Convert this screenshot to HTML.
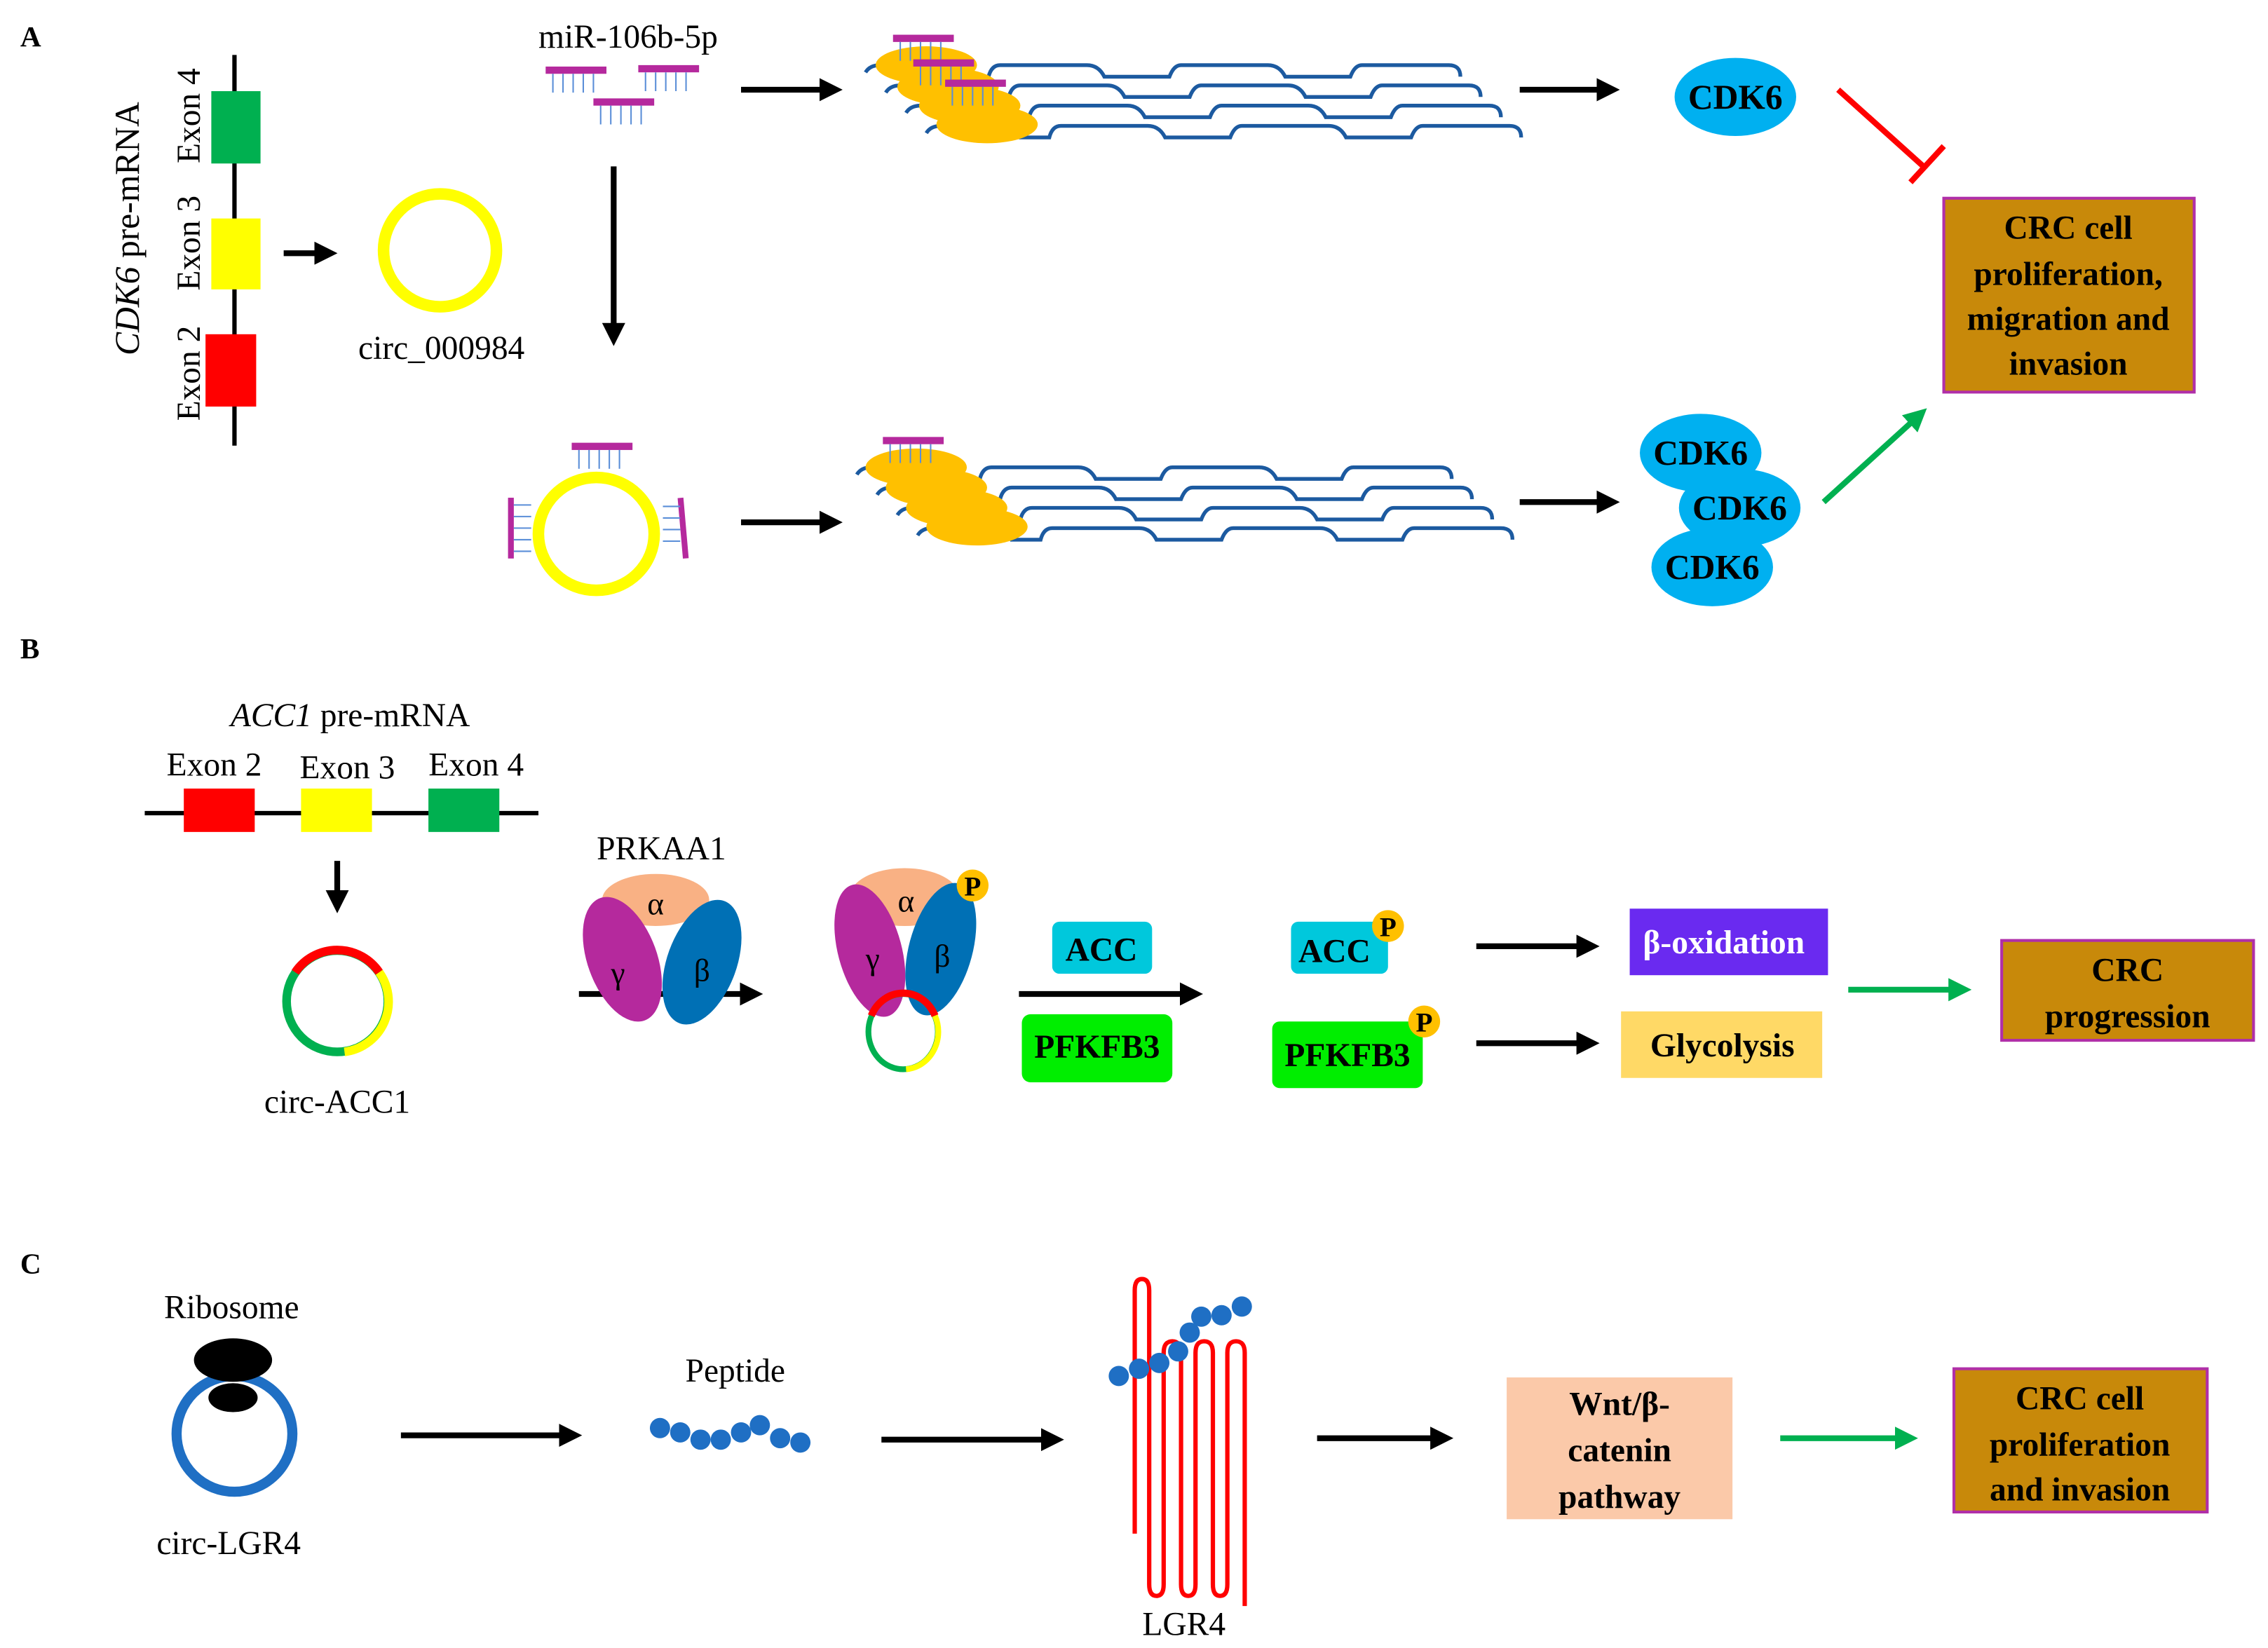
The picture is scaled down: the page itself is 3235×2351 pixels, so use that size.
<!DOCTYPE html>
<html><head><meta charset="utf-8"><style>
html,body{margin:0;padding:0;background:#fff}
svg{display:block}
svg text{font-family:"Liberation Serif","Times New Roman","DejaVu Serif",serif;fill:#000}
.b{font-weight:bold}
</style></head><body>
<svg width="3235" height="2351" viewBox="0 0 1567 1139" preserveAspectRatio="none" xmlns="http://www.w3.org/2000/svg" font-family="Liberation Serif, Times New Roman, DejaVu Serif, serif">
<defs>
<marker id="ah" markerWidth="4" markerHeight="4" refX="2.2" refY="2" orient="auto" markerUnits="strokeWidth"><path d="M0,0 L4,2 L0,4 Z" fill="#000"/></marker>
<marker id="ag" markerWidth="4" markerHeight="4" refX="2.2" refY="2" orient="auto" markerUnits="strokeWidth"><path d="M0,0 L4,2 L0,4 Z" fill="#00b050"/></marker>
<path id="wave" d="M0,10 q3,-5 10,-5 h45 q8,0 10,8 h20 q2,-8 8,-8 h60 q8,0 12,8 h45 q3,-8 8,-8 h60 q8,0 12,8 h45 q3,-8 8,-8 h60 q8,0 8,8" fill="none" stroke="#1c5aa0" stroke-width="2.6"/>
<g id="mir"><rect x="0" y="0" width="42" height="5" fill="#b5299d"/><path d="M5,5v13M12,5v13M19,5v13M26,5v13M33,5v13" stroke="#5a8ed8" stroke-width="1"/></g>
<g id="cdk"><ellipse rx="42" ry="27" fill="#00b0f0"/><text y="8" text-anchor="middle" class="b" font-size="24">CDK6</text></g>
<g id="pp"><circle r="11" fill="#ffc000"/><text y="7" text-anchor="middle" class="b" font-size="19">P</text></g>
</defs>

<!-- Panel A -->
<text x="14" y="32" class="b" font-size="20">A</text>
<line x1="162" y1="38" x2="162" y2="308" stroke="#000" stroke-width="3"/>
<rect x="146" y="63" width="34" height="50" fill="#00b050"/>
<rect x="146" y="151" width="34" height="49" fill="#ffff00"/>
<rect x="142" y="231" width="35" height="50" fill="#ff0000"/>
<text transform="translate(138,80) rotate(-90)" text-anchor="middle" font-size="23">Exon 4</text>
<text transform="translate(138,168) rotate(-90)" text-anchor="middle" font-size="23">Exon 3</text>
<text transform="translate(138,258) rotate(-90)" text-anchor="middle" font-size="23">Exon 2</text>
<text transform="translate(96,158) rotate(-90)" text-anchor="middle" font-size="24"><tspan font-style="italic">CDK6</tspan> pre-mRNA</text>
<line x1="196" y1="175" x2="226" y2="175" stroke="#000" stroke-width="4" marker-end="url(#ah)"/>
<circle cx="304" cy="173" r="39" fill="none" stroke="#ffff00" stroke-width="8"/>
<text x="305" y="248" text-anchor="middle" font-size="23">circ_000984</text>
<text x="434" y="33" text-anchor="middle" font-size="23">miR-106b-5p</text>
<use href="#mir" x="377" y="46"/><use href="#mir" x="441" y="45"/><use href="#mir" x="410" y="68"/>
<line x1="512" y1="62" x2="575" y2="62" stroke="#000" stroke-width="4" marker-end="url(#ah)"/>
<line x1="424" y1="115" x2="424" y2="232" stroke="#000" stroke-width="4" marker-end="url(#ah)"/>
<use href="#wave" x="598" y="40"/><use href="#wave" x="612" y="54"/><use href="#wave" x="626" y="68"/><use href="#wave" x="640" y="82"/>
<ellipse cx="640" cy="45" rx="35" ry="13" fill="#ffc000"/><ellipse cx="655" cy="60" rx="35" ry="13" fill="#ffc000"/><ellipse cx="670" cy="73" rx="35" ry="13" fill="#ffc000"/><ellipse cx="682" cy="86" rx="35" ry="13" fill="#ffc000"/>
<use href="#mir" x="617" y="24"/><use href="#mir" x="631" y="41"/><use href="#mir" x="653" y="55"/>
<line x1="1050" y1="62" x2="1112" y2="62" stroke="#000" stroke-width="4" marker-end="url(#ah)"/>
<use href="#cdk" x="1199" y="67"/>
<line x1="1270" y1="62" x2="1330" y2="116" stroke="#ff0000" stroke-width="4"/>
<line x1="1343" y1="101" x2="1320" y2="126" stroke="#ff0000" stroke-width="4"/>
<rect x="1343" y="137" width="173" height="134" fill="#c8890a" stroke="#b02fa8" stroke-width="2"/>
<text x="1429" y="165" text-anchor="middle" class="b" font-size="23">CRC cell</text>
<text x="1429" y="197" text-anchor="middle" class="b" font-size="23">proliferation,</text>
<text x="1429" y="228" text-anchor="middle" class="b" font-size="23">migration and</text>
<text x="1429" y="259" text-anchor="middle" class="b" font-size="23">invasion</text>
<ellipse cx="412" cy="369" rx="40" ry="39" fill="none" stroke="#ffff00" stroke-width="8"/>
<use href="#mir" x="395" y="306"/>
<rect x="351" y="344" width="4" height="42" fill="#b5299d"/>
<path d="M355,349h12M355,357h12M355,365h12M355,373h12M355,381h12" stroke="#5a8ed8" stroke-width="1"/>
<rect x="470" y="344" width="4" height="42" fill="#b5299d" transform="rotate(-5 472 365)"/>
<path d="M458,350h12M458,358h12M458,366h12M458,374h12" stroke="#5a8ed8" stroke-width="1"/>
<line x1="512" y1="361" x2="575" y2="361" stroke="#000" stroke-width="4" marker-end="url(#ah)"/>
<use href="#wave" x="592" y="318"/><use href="#wave" x="606" y="332"/><use href="#wave" x="620" y="346"/><use href="#wave" x="634" y="360"/>
<ellipse cx="633" cy="323" rx="35" ry="13" fill="#ffc000"/><ellipse cx="647" cy="337" rx="35" ry="13" fill="#ffc000"/><ellipse cx="661" cy="351" rx="35" ry="13" fill="#ffc000"/><ellipse cx="675" cy="364" rx="35" ry="13" fill="#ffc000"/>
<use href="#mir" x="610" y="302"/>
<line x1="1050" y1="347" x2="1112" y2="347" stroke="#000" stroke-width="4" marker-end="url(#ah)"/>
<use href="#cdk" x="1175" y="313"/><use href="#cdk" x="1202" y="351"/><use href="#cdk" x="1183" y="392"/>
<line x1="1260" y1="347" x2="1326" y2="287" stroke="#00b050" stroke-width="4" marker-end="url(#ag)"/>

<!-- Panel B -->
<text x="14" y="455" class="b" font-size="20">B</text>
<text x="242" y="502" text-anchor="middle" font-size="23"><tspan font-style="italic">ACC1</tspan> pre-mRNA</text>
<text x="148" y="536" text-anchor="middle" font-size="23">Exon 2</text>
<text x="240" y="538" text-anchor="middle" font-size="23">Exon 3</text>
<text x="329" y="536" text-anchor="middle" font-size="23">Exon 4</text>
<line x1="100" y1="562" x2="372" y2="562" stroke="#000" stroke-width="3"/>
<rect x="127" y="545" width="49" height="30" fill="#ff0000"/>
<rect x="208" y="545" width="49" height="30" fill="#ffff00"/>
<rect x="296" y="545" width="49" height="30" fill="#00b050"/>
<line x1="233" y1="595" x2="233" y2="624" stroke="#000" stroke-width="4" marker-end="url(#ah)"/>
<circle cx="233" cy="692" r="35" fill="none" stroke="#00b050" stroke-width="6"/>
<path d="M204,672 A35,35 0 0 1 262,672" fill="none" stroke="#ff0000" stroke-width="6"/>
<path d="M262,672 A35,35 0 0 1 238,727" fill="none" stroke="#ffff00" stroke-width="6"/>
<text x="233" y="769" text-anchor="middle" font-size="23">circ-ACC1</text>
<text x="457" y="594" text-anchor="middle" font-size="23">PRKAA1</text>
<line x1="400" y1="687" x2="520" y2="687" stroke="#000" stroke-width="4" marker-end="url(#ah)"/>
<ellipse cx="453" cy="622" rx="37" ry="18" fill="#f9b184"/>
<ellipse cx="430" cy="663" rx="24" ry="45" fill="#b5299d" transform="rotate(-20 430 663)"/>
<ellipse cx="485" cy="665" rx="24" ry="45" fill="#0070b5" transform="rotate(20 485 665)"/>
<text x="453" y="632" text-anchor="middle" font-size="22">α</text>
<text x="427" y="680" text-anchor="middle" font-size="22">γ</text>
<text x="485" y="678" text-anchor="middle" font-size="22">β</text>
<ellipse cx="625" cy="620" rx="38" ry="20" fill="#f9b184"/>
<ellipse cx="601" cy="657" rx="22" ry="47" fill="#b5299d" transform="rotate(-15 601 657)"/>
<ellipse cx="650" cy="656" rx="22" ry="47" fill="#0070b5" transform="rotate(15 650 656)"/>
<text x="626" y="630" text-anchor="middle" font-size="22">α</text>
<text x="603" y="670" text-anchor="middle" font-size="22">γ</text>
<text x="651" y="668" text-anchor="middle" font-size="22">β</text>
<use href="#pp" x="672" y="612"/>
<ellipse cx="624" cy="713" rx="24" ry="26" fill="none" stroke="#00b050" stroke-width="4"/>
<path d="M602,702 A24,26 0 0 1 646,702" fill="none" stroke="#ff0000" stroke-width="5"/>
<path d="M646,702 A24,26 0 0 1 626,739" fill="none" stroke="#ffff00" stroke-width="4"/>
<rect x="727" y="637" width="69" height="36" rx="5" fill="#00c8dc"/>
<text x="761" y="664" text-anchor="middle" class="b" font-size="23">ACC</text>
<line x1="704" y1="687" x2="824" y2="687" stroke="#000" stroke-width="4" marker-end="url(#ah)"/>
<rect x="706" y="701" width="104" height="47" rx="6" fill="#00ee00"/>
<text x="758" y="731" text-anchor="middle" class="b" font-size="23">PFKFB3</text>
<rect x="892" y="637" width="67" height="36" rx="5" fill="#00c8dc"/>
<text x="922" y="665" text-anchor="middle" class="b" font-size="23">ACC</text>
<use href="#pp" x="959" y="640"/>
<rect x="879" y="706" width="104" height="46" rx="5" fill="#00ee00"/>
<text x="931" y="737" text-anchor="middle" class="b" font-size="23">PFKFB3</text>
<use href="#pp" x="984" y="706"/>
<line x1="1020" y1="654" x2="1098" y2="654" stroke="#000" stroke-width="4" marker-end="url(#ah)"/>
<line x1="1020" y1="721" x2="1098" y2="721" stroke="#000" stroke-width="4" marker-end="url(#ah)"/>
<rect x="1126" y="628" width="137" height="46" fill="#6a2af0"/>
<text x="1191" y="659" text-anchor="middle" class="b" font-size="23" style="fill:#fff">β-oxidation</text>
<rect x="1120" y="699" width="139" height="46" fill="#ffd966"/>
<text x="1190" y="730" text-anchor="middle" class="b" font-size="23">Glycolysis</text>
<line x1="1277" y1="684" x2="1355" y2="684" stroke="#00b050" stroke-width="4" marker-end="url(#ag)"/>
<rect x="1383" y="650" width="174" height="69" fill="#c8890a" stroke="#b02fa8" stroke-width="2"/>
<text x="1470" y="678" text-anchor="middle" class="b" font-size="23">CRC</text>
<text x="1470" y="710" text-anchor="middle" class="b" font-size="23">progression</text>

<!-- Panel C -->
<text x="14" y="880" class="b" font-size="20">C</text>
<text x="160" y="911" text-anchor="middle" font-size="23">Ribosome</text>
<circle cx="162" cy="991" r="40" fill="none" stroke="#1f6fc4" stroke-width="7"/>
<ellipse cx="161" cy="940" rx="27" ry="15" fill="#000"/>
<ellipse cx="161" cy="966" rx="17" ry="10" fill="#000"/>
<text x="158" y="1074" text-anchor="middle" font-size="23">circ-LGR4</text>
<line x1="277" y1="992" x2="395" y2="992" stroke="#000" stroke-width="4" marker-end="url(#ah)"/>
<text x="508" y="955" text-anchor="middle" font-size="23">Peptide</text>
<g fill="#1f6fc4"><circle cx="456" cy="987" r="7"/><circle cx="470" cy="990" r="7"/><circle cx="484" cy="995" r="7"/><circle cx="498" cy="995" r="7"/><circle cx="512" cy="990" r="7"/><circle cx="525" cy="985" r="7"/><circle cx="539" cy="994" r="7"/><circle cx="553" cy="997" r="7"/></g>
<line x1="609" y1="995" x2="728" y2="995" stroke="#000" stroke-width="4" marker-end="url(#ah)"/>
<path d="M784,1060 V892 q0,-8 5,-8 q5,0 5,8 V1095 q0,8 5,8 q5,0 5,-8 V935 q0,-8 6,-8 q6,0 6,8 V1095 q0,8 5,8 q5,0 5,-8 V935 q0,-8 6,-8 q6,0 6,8 V1095 q0,8 5,8 q5,0 5,-8 V935 q0,-8 6,-8 q6,0 6,8 V1110" fill="none" stroke="#ff0000" stroke-width="3"/>
<g fill="#1f6fc4"><circle cx="773" cy="951" r="7"/><circle cx="787" cy="946" r="7"/><circle cx="801" cy="942" r="7"/><circle cx="814" cy="934" r="7"/><circle cx="822" cy="921" r="7"/><circle cx="830" cy="910" r="7"/><circle cx="844" cy="909" r="7"/><circle cx="858" cy="903" r="7"/></g>
<text x="818" y="1130" text-anchor="middle" font-size="23">LGR4</text>
<line x1="910" y1="994" x2="997" y2="994" stroke="#000" stroke-width="4" marker-end="url(#ah)"/>
<rect x="1041" y="952" width="156" height="98" fill="#fbc9a9"/>
<text x="1119" y="978" text-anchor="middle" class="b" font-size="23">Wnt/β-</text>
<text x="1119" y="1010" text-anchor="middle" class="b" font-size="23">catenin</text>
<text x="1119" y="1042" text-anchor="middle" class="b" font-size="23">pathway</text>
<line x1="1230" y1="994" x2="1318" y2="994" stroke="#00b050" stroke-width="4" marker-end="url(#ag)"/>
<rect x="1350" y="946" width="175" height="99" fill="#c8890a" stroke="#b02fa8" stroke-width="2"/>
<text x="1437" y="974" text-anchor="middle" class="b" font-size="23">CRC cell</text>
<text x="1437" y="1006" text-anchor="middle" class="b" font-size="23">proliferation</text>
<text x="1437" y="1037" text-anchor="middle" class="b" font-size="23">and invasion</text>
</svg>
</body></html>
